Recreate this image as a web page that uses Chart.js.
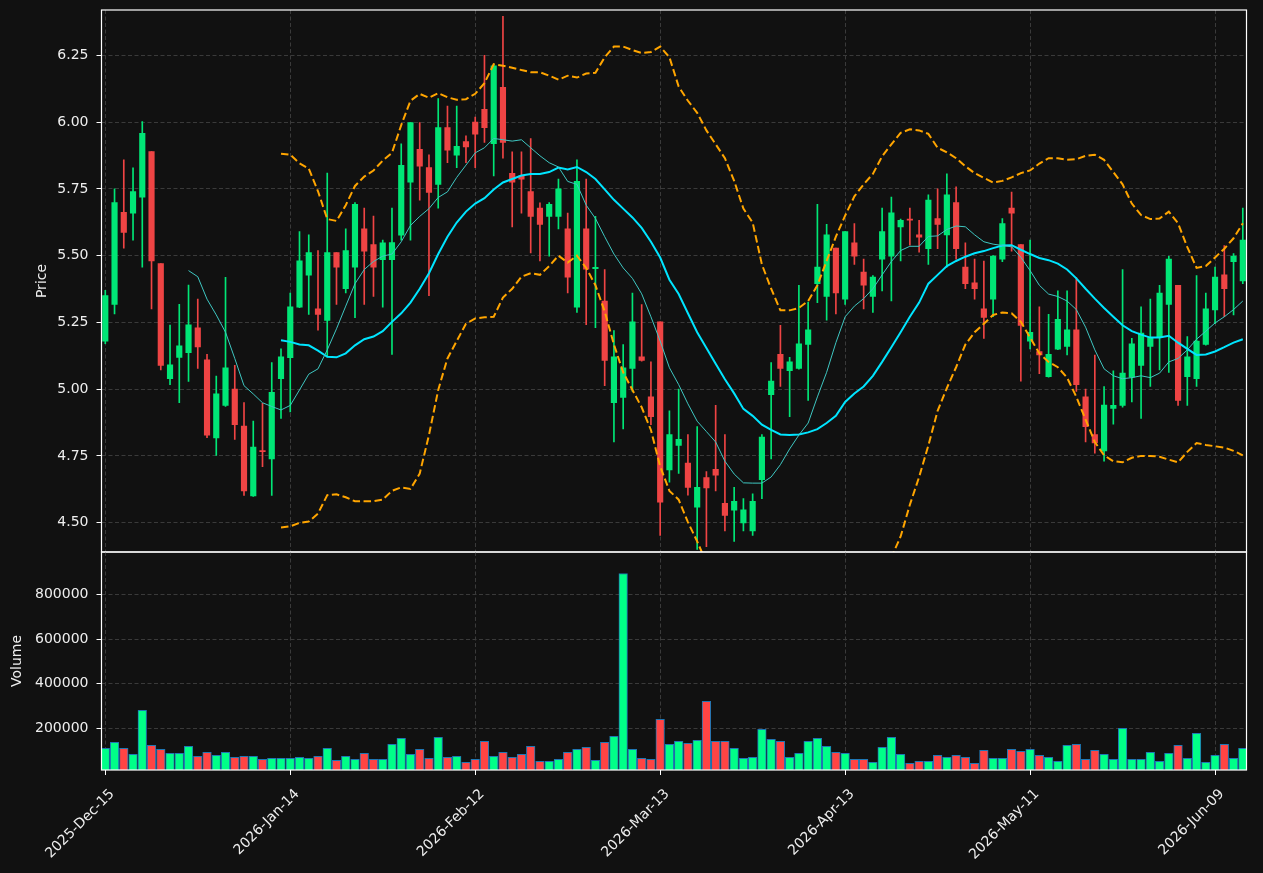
<!DOCTYPE html>
<html>
<head>
<meta charset="utf-8">
<script src="https://cdn.jsdelivr.net/npm/chart.js@4.4.1/dist/chart.umd.min.js"></script>
<style>
html, body { margin: 0; background: #111111; }
#wrap { position: relative; width: 1263px; height: 873px; background: #111111; overflow: hidden; }
canvas { position: absolute; left: 0; }
</style>
</head>
<body>
<div id="wrap">
  <canvas id="priceChart" width="1263" height="576" style="top:-7px"></canvas>
  <canvas id="volumeChart" width="1263" height="338" style="top:535px"></canvas>
</div>
<script>
const tickIdx = [0, 20, 40, 60, 80, 100, 120]
const tickLabels = ['2025-Dec-15', '2026-Jan-14', '2026-Feb-12', '2026-Mar-13', '2026-Apr-13', '2026-May-11', '2026-Jun-09']

const opens = [5.18,5.317,5.662,5.659,5.719,5.890,5.470,5.039,5.119,5.137,5.230,5.110,4.817,4.939,5.000,4.862,4.600,4.769,4.739,5.039,
  5.118,5.307,5.427,5.301,5.257,5.511,5.376,5.457,5.600,5.541,5.485,5.485,5.577,5.775,5.898,5.830,5.767,5.980,5.876,5.927,
  6.000,6.048,5.919,6.130,5.808,5.799,5.740,5.678,5.647,5.647,5.600,5.307,5.600,5.451,5.330,4.949,4.969,5.078,5.121,4.971,
  5.252,4.697,4.789,4.723,4.558,4.669,4.700,4.572,4.547,4.499,4.469,4.661,4.979,5.130,5.069,5.078,5.167,5.395,5.347,5.528,
  5.337,5.548,5.438,5.347,5.487,5.498,5.608,5.637,5.578,5.526,5.639,5.578,5.699,5.457,5.398,5.301,5.337,5.487,5.678,5.541,
  5.180,5.141,5.047,5.150,5.160,5.222,4.971,4.830,4.769,4.928,4.939,5.045,5.089,5.160,5.193,5.317,5.389,5.047,5.039,5.167,
  5.297,5.428,5.477,5.405]
const highs = [5.37,5.750,5.859,5.829,6.002,5.890,5.470,5.240,5.318,5.390,5.337,5.130,5.049,5.419,5.089,4.950,4.880,4.947,5.099,5.151,
  5.360,5.590,5.578,5.519,5.809,5.511,5.600,5.699,5.678,5.648,5.558,5.678,5.919,5.998,5.998,5.878,6.088,6.060,6.060,5.949,
  6.019,6.250,6.217,6.396,5.889,5.889,5.938,5.698,5.699,5.787,5.659,5.859,5.787,5.647,5.448,5.219,5.167,5.360,5.317,5.102,
  5.252,4.919,5.000,4.830,4.860,4.691,4.939,4.830,4.632,4.590,4.608,4.830,5.099,5.239,5.119,5.389,5.326,5.692,5.617,5.528,
  5.590,5.620,5.487,5.425,5.678,5.719,5.637,5.678,5.632,5.728,5.750,5.806,5.758,5.548,5.487,5.480,5.500,5.639,5.738,5.541,
  5.558,5.308,5.280,5.368,5.368,5.418,5.000,5.128,5.010,5.069,5.448,5.190,5.308,5.337,5.389,5.497,5.389,5.197,5.425,5.360,
  5.457,5.538,5.508,5.678]
const lows = [5.17,5.282,5.528,5.558,5.457,5.300,5.072,5.017,4.949,5.029,5.078,4.818,4.752,4.935,4.812,4.602,4.598,4.710,4.602,4.890,
  4.915,5.305,5.280,5.221,5.121,5.317,5.360,5.268,5.317,5.347,5.307,5.130,5.558,5.558,5.708,5.350,5.678,5.848,5.829,5.848,
  5.829,5.924,5.799,5.865,5.608,5.659,5.510,5.480,5.498,5.600,5.360,5.287,5.241,5.230,5.013,4.802,4.851,4.991,5.105,4.867,
  4.452,4.652,4.684,4.603,4.400,4.410,4.619,4.469,4.430,4.469,4.452,4.590,4.739,5.010,4.897,5.075,4.958,5.324,5.258,5.282,
  5.317,5.467,5.300,5.287,5.368,5.330,5.480,5.539,5.513,5.467,5.526,5.457,5.487,5.376,5.337,5.190,5.271,5.477,5.517,5.030,
  5.151,5.058,5.045,5.148,5.128,4.991,4.802,4.760,4.730,4.869,4.932,4.952,4.890,5.010,5.072,5.063,4.939,4.939,5.010,5.165,
  5.245,5.271,5.278,5.395]
const closes = [5.350,5.699,5.587,5.740,5.958,5.480,5.089,5.091,5.162,5.241,5.158,4.828,4.982,5.080,4.867,4.619,4.783,4.766,4.988,5.121,
  5.308,5.481,5.511,5.280,5.511,5.457,5.519,5.692,5.517,5.457,5.548,5.549,5.838,5.998,5.835,5.737,5.980,5.895,5.909,5.907,
  5.955,5.979,6.211,5.924,5.775,5.786,5.647,5.617,5.692,5.750,5.419,5.778,5.449,5.456,5.108,5.121,5.080,5.252,5.108,4.897,
  4.577,4.830,4.812,4.632,4.632,4.630,4.678,4.527,4.580,4.548,4.580,4.820,5.030,5.078,5.102,5.170,5.222,5.457,5.578,5.360,
  5.590,5.498,5.389,5.420,5.590,5.660,5.632,5.633,5.569,5.708,5.617,5.728,5.526,5.395,5.376,5.269,5.498,5.620,5.659,5.239,
  5.213,5.128,5.130,5.261,5.222,5.017,4.859,4.799,4.940,4.939,5.060,5.170,5.210,5.193,5.360,5.487,4.958,5.121,5.180,5.301,
  5.420,5.376,5.498,5.558]
const volumes = [110500,137300,110500,83700,280500,123900,106000,88100,88100,119400,74700,92600,79200,92600,70200,74700,74700,61300,65800,65800,
  65800,70200,65800,74700,110500,56800,74700,61300,88100,61300,61300,128400,155200,83700,106000,65800,159700,70200,74700,47900,
  61300,141800,74700,92600,70200,83700,119400,52300,52300,61300,92600,106000,115000,56800,137300,164200,893500,106000,65800,61300,
  240300,128400,141800,132900,146300,320800,141800,141800,110500,65800,70200,195500,150800,141800,70200,88100,141800,155200,119400,92600,
  88100,61300,61300,47900,115000,159700,83700,43400,52300,52300,79200,70200,79200,70200,43400,101500,65800,65800,106000,97100,
  106000,79200,70200,52300,123900,128400,61300,101500,83700,61300,200000,61300,61300,92600,52300,88100,123900,65800,177600,47900,
  79200,128400,65800,110500]

const ma10 = [null,null,null,null,null,null,null,null,null,5.444,5.421,5.337,5.278,5.213,5.115,5.013,4.982,4.949,4.935,4.922,
  4.939,4.997,5.056,5.076,5.147,5.226,5.311,5.395,5.448,5.478,5.498,5.506,5.552,5.613,5.647,5.676,5.718,5.739,5.793,5.839,
  5.885,5.904,5.939,5.934,5.929,5.934,5.904,5.874,5.848,5.832,5.778,5.767,5.689,5.639,5.571,5.506,5.454,5.415,5.357,5.271,
  5.180,5.080,5.017,4.945,4.880,4.841,4.802,4.730,4.682,4.649,4.648,4.648,4.671,4.717,4.776,4.828,4.873,4.971,5.063,5.174,
  5.271,5.311,5.339,5.376,5.428,5.478,5.519,5.535,5.535,5.572,5.574,5.598,5.611,5.608,5.578,5.552,5.543,5.538,5.533,5.494,
  5.444,5.389,5.356,5.347,5.330,5.298,5.232,5.147,5.076,5.050,5.039,5.043,5.050,5.043,5.060,5.102,5.115,5.147,5.187,5.217,
  5.248,5.271,5.298,5.330]
const ma20 = [null,null,null,null,null,null,null,null,null,null,null,null,null,null,null,null,null,null,null,5.183,
  5.177,5.167,5.164,5.144,5.121,5.119,5.134,5.164,5.187,5.197,5.217,5.252,5.284,5.324,5.376,5.434,5.506,5.571,5.624,5.665,
  5.695,5.715,5.748,5.774,5.787,5.800,5.806,5.806,5.813,5.830,5.823,5.832,5.813,5.787,5.748,5.709,5.676,5.643,5.604,5.552,
  5.493,5.410,5.356,5.284,5.213,5.154,5.095,5.037,4.984,4.926,4.900,4.867,4.847,4.830,4.828,4.830,4.838,4.850,4.873,4.900,
  4.952,4.984,5.010,5.050,5.102,5.157,5.213,5.271,5.324,5.395,5.428,5.461,5.480,5.496,5.509,5.517,5.528,5.538,5.539,5.522,
  5.506,5.491,5.483,5.470,5.448,5.415,5.376,5.339,5.304,5.271,5.239,5.217,5.204,5.193,5.193,5.200,5.174,5.151,5.128,5.130,
  5.141,5.157,5.174,5.187]
const bandUpper = [null,null,null,null,null,null,null,null,null,null,null,null,null,null,null,null,null,null,null,5.882,
  5.878,5.846,5.826,5.741,5.637,5.630,5.689,5.761,5.796,5.819,5.856,5.885,5.989,6.080,6.106,6.091,6.109,6.093,6.084,6.086,
  6.106,6.146,6.217,6.211,6.204,6.195,6.187,6.187,6.174,6.159,6.174,6.167,6.182,6.185,6.243,6.283,6.283,6.270,6.259,6.263,
  6.283,6.243,6.133,6.080,6.035,5.969,5.917,5.865,5.780,5.676,5.624,5.467,5.376,5.295,5.295,5.304,5.330,5.389,5.480,5.571,
  5.650,5.722,5.767,5.806,5.872,5.917,5.960,5.973,5.969,5.956,5.904,5.887,5.865,5.835,5.809,5.791,5.774,5.780,5.793,5.809,
  5.819,5.845,5.865,5.865,5.859,5.861,5.874,5.878,5.859,5.813,5.767,5.695,5.652,5.637,5.639,5.665,5.621,5.532,5.454,5.461,
  5.493,5.526,5.565,5.621]
const bandLower = [null,null,null,null,null,null,null,null,null,null,null,null,null,null,null,null,null,null,null,4.482,
  4.486,4.499,4.504,4.534,4.603,4.606,4.595,4.580,4.580,4.580,4.586,4.619,4.632,4.626,4.684,4.828,4.997,5.115,5.180,5.245,
  5.265,5.269,5.271,5.343,5.376,5.421,5.434,5.428,5.461,5.500,5.474,5.500,5.454,5.389,5.291,5.167,5.063,4.997,4.932,4.847,
  4.710,4.619,4.586,4.502,4.430,4.350,4.270,4.210,4.190,4.180,4.180,4.260,4.320,4.360,4.360,4.360,4.350,4.310,4.270,4.230,
  4.250,4.250,4.250,4.290,4.330,4.370,4.448,4.567,4.671,4.789,4.919,5.004,5.082,5.167,5.213,5.245,5.278,5.287,5.284,5.252,
  5.193,5.134,5.102,5.082,5.043,4.971,4.886,4.802,4.752,4.730,4.726,4.743,4.750,4.750,4.747,4.736,4.726,4.765,4.798,4.791,
  4.786,4.781,4.769,4.752]

const priceTicks = [4.50, 4.75, 5.00, 5.25, 5.50, 5.75, 6.00, 6.25]
const volumeTicks = [200000, 400000, 600000, 800000]

const upColor = '#00e676'
const downColor = '#ef4444'
const volUpColor = '#00ff88'
const volDownColor = '#ff4444'
const textColor = '#eeeeee'
const gridColor = '#3a3a3a'
const font = { family: 'DejaVu Sans', size: 14 }

const xMin = -0.41
const xMax = 123.4

const frame = {
  id: 'frame',
  afterDraw(chart) {
    const a = chart.chartArea
    const ctx = chart.ctx
    ctx.save()
    ctx.strokeStyle = '#ffffff'
    ctx.lineWidth = 1.2
    ctx.strokeRect(a.left, a.top, a.right - a.left, a.bottom - a.top)
    ctx.restore()
  }
}

const labels = opens.map((_, i) => i)
const isUp = opens.map((o, i) => closes[i] >= o)

function setTicks(values) {
  return function(scale) {
    scale.ticks = values.map(v => ({ value: v }))
  }
}

function renderPrice() {
  const ctx = document.getElementById('priceChart')
  new Chart(ctx, {
    type: 'bar',
    data: {
      labels: labels,
      datasets: [
        {
          type: 'line', label: 'MA10', data: ma10,
          borderColor: '#3fc7c2', borderWidth: 1, pointRadius: 0, order: 0
        },
        {
          type: 'line', label: 'MA20', data: ma20,
          borderColor: '#00e5ff', borderWidth: 2, pointRadius: 0, order: 0
        },
        {
          type: 'line', label: 'Upper', data: bandUpper,
          borderColor: '#ffa500', borderWidth: 2, borderDash: [7.5, 3.5], pointRadius: 0, order: 0
        },
        {
          type: 'line', label: 'Lower', data: bandLower,
          borderColor: '#ffa500', borderWidth: 2, borderDash: [7.5, 3.5], pointRadius: 0, order: 0
        },
        {
          label: 'Body', data: opens.map((o, i) => [o, closes[i]]),
          backgroundColor: isUp.map(u => u ? upColor : downColor),
          barThickness: 5.5, grouped: false, minBarLength: 1, order: 1
        },
        {
          label: 'Wick', data: lows.map((l, i) => [l, highs[i]]),
          backgroundColor: isUp.map(u => u ? upColor : downColor),
          barThickness: 1, grouped: false, order: 2
        }
      ]
    },
    options: {
      responsive: false,
      animation: false,
      events: [],
      layout: { padding: { left: 0, right: 16.5, top: 17, bottom: 17 } },
      plugins: { legend: { display: false }, tooltip: { enabled: false } },
      scales: {
        x: {
          type: 'linear', min: xMin, max: xMax, offset: false,
          afterBuildTicks: setTicks(tickIdx),
          afterFit(scale) { scale.height = 0 },
          ticks: { display: false },
          grid: { color: gridColor, drawTicks: false, offset: false },
          border: { display: false, dash: [4, 2.5] }
        },
        y: {
          min: 4.39, max: 6.42,
          afterBuildTicks: setTicks(priceTicks),
          afterFit(scale) { scale.width = 101.5 },
          ticks: { color: textColor, font: font, padding: 8, callback: v => v.toFixed(2) },
          grid: { color: gridColor, tickColor: '#ffffff', tickLength: 5, tickWidth: 1 },
          border: { display: false, dash: [4, 2.5] },
          title: { display: true, text: 'Price', color: textColor, font: font, padding: { top: 33.6, bottom: 0 } }
        }
      }
    },
    plugins: [frame]
  })
}

function renderVolume() {
  const ctx = document.getElementById('volumeChart')
  new Chart(ctx, {
    type: 'bar',
    data: {
      labels: labels,
      datasets: [{
        label: 'Volume', data: volumes,
        backgroundColor: isUp.map(u => u ? volUpColor : volDownColor),
        borderColor: '#1f77b4', borderWidth: 1, borderSkipped: false,
        barThickness: 8.6
      }]
    },
    options: {
      responsive: false,
      animation: false,
      events: [],
      layout: { padding: { left: 0, right: 16.5, top: 17, bottom: 0 } },
      plugins: { legend: { display: false }, tooltip: { enabled: false } },
      scales: {
        x: {
          type: 'linear', min: xMin, max: xMax, offset: false,
          afterBuildTicks: setTicks(tickIdx),
          afterFit(scale) { scale.height = 103 },
          ticks: {
            color: textColor, font: font, autoSkip: false, minRotation: 45, maxRotation: 45, padding: 11, labelOffset: 7,
            callback: v => tickLabels[tickIdx.indexOf(v)]
          },
          grid: { color: gridColor, tickColor: '#ffffff', tickLength: 5, tickWidth: 1, offset: false },
          border: { display: false, dash: [4, 2.5] }
        },
        y: {
          min: 13400, max: 989600,
          afterBuildTicks: setTicks(volumeTicks),
          afterFit(scale) { scale.width = 101.5 },
          ticks: { color: textColor, font: font, padding: 8, callback: v => String(v) },
          grid: { color: gridColor, tickColor: '#ffffff', tickLength: 5, tickWidth: 1 },
          border: { display: false, dash: [4, 2.5] },
          title: { display: true, text: 'Volume', color: textColor, font: font, padding: { top: 8.6, bottom: 0 } }
        }
      }
    },
    plugins: [frame]
  })
}

renderPrice()
renderVolume()
</script>
</body>
</html>
